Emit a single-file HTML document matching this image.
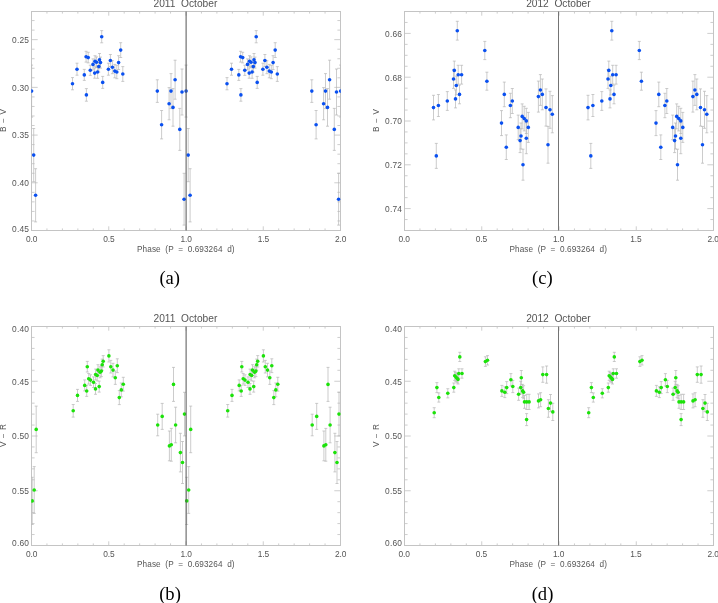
<!DOCTYPE html>
<html><head><meta charset="utf-8"><title>Phase plots</title>
<style>
html,body{margin:0;padding:0;background:#fff;}
body{width:718px;height:603px;overflow:hidden;font-family:"Liberation Sans",sans-serif;}
svg{display:block;font-family:"Liberation Sans",sans-serif;}
</style></head><body>
<svg width="718" height="603" viewBox="0 0 718 603">
<defs><filter id="gs" x="-5%" y="-20%" width="110%" height="140%" color-interpolation-filters="sRGB"><feColorMatrix type="saturate" values="0"/></filter></defs>
<rect width="718" height="603" fill="#ffffff"/>
<g id="p1">
<path d="M46.95 230.5v-2.1M46.95 11.5v2.1M62.4 230.5v-2.1M62.4 11.5v2.1M77.85 230.5v-2.1M77.85 11.5v2.1M93.3 230.5v-2.1M93.3 11.5v2.1M108.75 230.5v-4.2M108.75 11.5v4.2M124.2 230.5v-2.1M124.2 11.5v2.1M139.65 230.5v-2.1M139.65 11.5v2.1M155.1 230.5v-2.1M155.1 11.5v2.1M170.55 230.5v-2.1M170.55 11.5v2.1M186 230.5v-4.2M186 11.5v4.2M201.45 230.5v-2.1M201.45 11.5v2.1M216.9 230.5v-2.1M216.9 11.5v2.1M232.35 230.5v-2.1M232.35 11.5v2.1M247.8 230.5v-2.1M247.8 11.5v2.1M263.25 230.5v-4.2M263.25 11.5v4.2M278.7 230.5v-2.1M278.7 11.5v2.1M294.15 230.5v-2.1M294.15 11.5v2.1M309.6 230.5v-2.1M309.6 11.5v2.1M325.05 230.5v-2.1M325.05 11.5v2.1M31.5 20.57h3.1M340.5 20.57h-3.1M31.5 30.11h3.1M340.5 30.11h-3.1M31.5 39.65h6.2M340.5 39.65h-6.2M31.5 49.19h3.1M340.5 49.19h-3.1M31.5 58.74h3.1M340.5 58.74h-3.1M31.5 68.28h3.1M340.5 68.28h-3.1M31.5 77.82h3.1M340.5 77.82h-3.1M31.5 87.36h6.2M340.5 87.36h-6.2M31.5 96.91h3.1M340.5 96.91h-3.1M31.5 106.45h3.1M340.5 106.45h-3.1M31.5 115.99h3.1M340.5 115.99h-3.1M31.5 125.53h3.1M340.5 125.53h-3.1M31.5 135.08h6.2M340.5 135.08h-6.2M31.5 144.62h3.1M340.5 144.62h-3.1M31.5 154.16h3.1M340.5 154.16h-3.1M31.5 163.7h3.1M340.5 163.7h-3.1M31.5 173.25h3.1M340.5 173.25h-3.1M31.5 182.79h6.2M340.5 182.79h-6.2M31.5 192.33h3.1M340.5 192.33h-3.1M31.5 201.87h3.1M340.5 201.87h-3.1M31.5 211.42h3.1M340.5 211.42h-3.1M31.5 220.96h3.1M340.5 220.96h-3.1" stroke="#cecece" stroke-width="1" fill="none"/>
<rect x="31.5" y="11.5" width="309" height="219" fill="none" stroke="#c4c4c4" stroke-width="1"/>
<clipPath id="ca"><rect x="31.25" y="11.0" width="309.5" height="220"/></clipPath>
<g clip-path="url(#ca)">
<path d="M31.6 65.1V117.1M30.1 65.1h3M30.1 117.1h3M186.1 65.1V117.1M184.6 65.1h3M184.6 117.1h3M340.6 65.1V117.1M339.1 65.1h3M339.1 117.1h3M33.7 128.5V181.7M32.2 128.5h3M32.2 181.7h3M188.2 128.5V181.7M186.7 128.5h3M186.7 181.7h3M35.6 168.7V221.9M34.1 168.7h3M34.1 221.9h3M190.1 168.7V221.9M188.6 168.7h3M188.6 221.9h3M72.5 77.6V89.8M71 77.6h3M71 89.8h3M227 77.6V89.8M225.5 77.6h3M225.5 89.8h3M77 63.2V75.2M75.5 63.2h3M75.5 75.2h3M231.5 63.2V75.2M230 63.2h3M230 75.2h3M84.3 69.4V80.4M82.8 69.4h3M82.8 80.4h3M238.8 69.4V80.4M237.3 69.4h3M237.3 80.4h3M86.4 88.6V101.2M84.9 88.6h3M84.9 101.2h3M240.9 88.6V101.2M239.4 88.6h3M239.4 101.2h3M86.1 51.3V62.1M84.6 51.3h3M84.6 62.1h3M240.6 51.3V62.1M239.1 51.3h3M239.1 62.1h3M88.2 52.3V62.9M86.7 52.3h3M86.7 62.9h3M242.7 52.3V62.9M241.2 52.3h3M241.2 62.9h3M90.3 65.2V75.4M88.8 65.2h3M88.8 75.4h3M244.8 65.2V75.4M243.3 65.2h3M243.3 75.4h3M93 58.9V69.9M91.5 58.9h3M91.5 69.9h3M247.5 58.9V69.9M246 58.9h3M246 69.9h3M94.7 68V78.2M93.2 68h3M93.2 78.2h3M249.2 68V78.2M247.7 68h3M247.7 78.2h3M95 55.7V66.7M93.5 55.7h3M93.5 66.7h3M249.5 55.7V66.7M248 55.7h3M248 66.7h3M96.5 56.9V67.5M95 56.9h3M95 67.5h3M251 56.9V67.5M249.5 56.9h3M249.5 67.5h3M97.6 65.7V78.3M96.1 65.7h3M96.1 78.3h3M252.1 65.7V78.3M250.6 65.7h3M250.6 78.3h3M98.8 61.1V72.1M97.3 61.1h3M97.3 72.1h3M253.3 61.1V72.1M251.8 61.1h3M251.8 72.1h3M99.5 53.5V66.1M98 53.5h3M98 66.1h3M254 53.5V66.1M252.5 53.5h3M252.5 66.1h3M100.5 57.1V68.1M99 57.1h3M99 68.1h3M255 57.1V68.1M253.5 57.1h3M253.5 68.1h3M101.7 30.6V42.8M100.2 30.6h3M100.2 42.8h3M256.2 30.6V42.8M254.7 30.6h3M254.7 42.8h3M102.7 76.4V88.4M101.2 76.4h3M101.2 88.4h3M257.2 76.4V88.4M255.7 76.4h3M255.7 88.4h3M108.4 63.2V75.2M106.9 63.2h3M106.9 75.2h3M262.9 63.2V75.2M261.4 63.2h3M261.4 75.2h3M110.4 54.5V66.5M108.9 54.5h3M108.9 66.5h3M264.9 54.5V66.5M263.4 54.5h3M263.4 66.5h3M112.4 60.7V73.7M110.9 60.7h3M110.9 73.7h3M266.9 60.7V73.7M265.4 60.7h3M265.4 73.7h3M114.8 64.4V77.8M113.3 64.4h3M113.3 77.8h3M269.3 64.4V77.8M267.8 64.4h3M267.8 77.8h3M116.8 65.3V78.7M115.3 65.3h3M115.3 78.7h3M271.3 65.3V78.7M269.8 65.3h3M269.8 78.7h3M118.6 55.7V69.5M117.1 55.7h3M117.1 69.5h3M273.1 55.7V69.5M271.6 55.7h3M271.6 69.5h3M120.7 42.7V57.5M119.2 42.7h3M119.2 57.5h3M275.2 42.7V57.5M273.7 42.7h3M273.7 57.5h3M122.8 66.6V81.4M121.3 66.6h3M121.3 81.4h3M277.3 66.6V81.4M275.8 66.6h3M275.8 81.4h3M157.3 79.8V102.4M155.8 79.8h3M155.8 102.4h3M311.8 79.8V102.4M310.3 79.8h3M310.3 102.4h3M161.6 110.5V138.9M160.1 110.5h3M160.1 138.9h3M316.1 110.5V138.9M314.6 110.5h3M314.6 138.9h3M169.1 87.6V119.8M167.6 87.6h3M167.6 119.8h3M323.6 87.6V119.8M322.1 87.6h3M322.1 119.8h3M171 73.6V108.6M169.5 73.6h3M169.5 108.6h3M325.5 73.6V108.6M324 73.6h3M324 108.6h3M173 88.6V126.2M171.5 88.6h3M171.5 126.2h3M327.5 88.6V126.2M326 88.6h3M326 126.2h3M175.1 60.2V99.2M173.6 60.2h3M173.6 99.2h3M329.6 60.2V99.2M328.1 60.2h3M328.1 99.2h3M179.8 108.4V150.4M178.3 108.4h3M178.3 150.4h3M334.3 108.4V150.4M332.8 108.4h3M332.8 150.4h3M182 69V115M180.5 69h3M180.5 115h3M336.5 69V115M335 69h3M335 115h3M184.1 173.3V225.1M182.6 173.3h3M182.6 225.1h3M338.6 173.3V225.1M337.1 173.3h3M337.1 225.1h3" stroke="#b6b6b6" stroke-width="0.7" fill="none"/>
<g fill="#0a50f0"><circle cx="31.6" cy="91.1" r="1.8"/><circle cx="186.1" cy="91.1" r="1.8"/><circle cx="340.6" cy="91.1" r="1.8"/><circle cx="33.7" cy="155.1" r="1.8"/><circle cx="188.2" cy="155.1" r="1.8"/><circle cx="35.6" cy="195.3" r="1.8"/><circle cx="190.1" cy="195.3" r="1.8"/><circle cx="72.5" cy="83.7" r="1.8"/><circle cx="227" cy="83.7" r="1.8"/><circle cx="77" cy="69.2" r="1.8"/><circle cx="231.5" cy="69.2" r="1.8"/><circle cx="84.3" cy="74.9" r="1.8"/><circle cx="238.8" cy="74.9" r="1.8"/><circle cx="86.4" cy="94.9" r="1.8"/><circle cx="240.9" cy="94.9" r="1.8"/><circle cx="86.1" cy="56.7" r="1.8"/><circle cx="240.6" cy="56.7" r="1.8"/><circle cx="88.2" cy="57.6" r="1.8"/><circle cx="242.7" cy="57.6" r="1.8"/><circle cx="90.3" cy="70.3" r="1.8"/><circle cx="244.8" cy="70.3" r="1.8"/><circle cx="93" cy="64.4" r="1.8"/><circle cx="247.5" cy="64.4" r="1.8"/><circle cx="94.7" cy="73.1" r="1.8"/><circle cx="249.2" cy="73.1" r="1.8"/><circle cx="95" cy="61.2" r="1.8"/><circle cx="249.5" cy="61.2" r="1.8"/><circle cx="96.5" cy="62.2" r="1.8"/><circle cx="251" cy="62.2" r="1.8"/><circle cx="97.6" cy="72" r="1.8"/><circle cx="252.1" cy="72" r="1.8"/><circle cx="98.8" cy="66.6" r="1.8"/><circle cx="253.3" cy="66.6" r="1.8"/><circle cx="99.5" cy="59.8" r="1.8"/><circle cx="254" cy="59.8" r="1.8"/><circle cx="100.5" cy="62.6" r="1.8"/><circle cx="255" cy="62.6" r="1.8"/><circle cx="101.7" cy="36.7" r="1.8"/><circle cx="256.2" cy="36.7" r="1.8"/><circle cx="102.7" cy="82.4" r="1.8"/><circle cx="257.2" cy="82.4" r="1.8"/><circle cx="108.4" cy="69.2" r="1.8"/><circle cx="262.9" cy="69.2" r="1.8"/><circle cx="110.4" cy="60.5" r="1.8"/><circle cx="264.9" cy="60.5" r="1.8"/><circle cx="112.4" cy="67.2" r="1.8"/><circle cx="266.9" cy="67.2" r="1.8"/><circle cx="114.8" cy="71.1" r="1.8"/><circle cx="269.3" cy="71.1" r="1.8"/><circle cx="116.8" cy="72" r="1.8"/><circle cx="271.3" cy="72" r="1.8"/><circle cx="118.6" cy="62.6" r="1.8"/><circle cx="273.1" cy="62.6" r="1.8"/><circle cx="120.7" cy="50.1" r="1.8"/><circle cx="275.2" cy="50.1" r="1.8"/><circle cx="122.8" cy="74" r="1.8"/><circle cx="277.3" cy="74" r="1.8"/><circle cx="157.3" cy="91.1" r="1.8"/><circle cx="311.8" cy="91.1" r="1.8"/><circle cx="161.6" cy="124.7" r="1.8"/><circle cx="316.1" cy="124.7" r="1.8"/><circle cx="169.1" cy="103.7" r="1.8"/><circle cx="323.6" cy="103.7" r="1.8"/><circle cx="171" cy="91.1" r="1.8"/><circle cx="325.5" cy="91.1" r="1.8"/><circle cx="173" cy="107.4" r="1.8"/><circle cx="327.5" cy="107.4" r="1.8"/><circle cx="175.1" cy="79.7" r="1.8"/><circle cx="329.6" cy="79.7" r="1.8"/><circle cx="179.8" cy="129.4" r="1.8"/><circle cx="334.3" cy="129.4" r="1.8"/><circle cx="182" cy="92" r="1.8"/><circle cx="336.5" cy="92" r="1.8"/><circle cx="184.1" cy="199.2" r="1.8"/><circle cx="338.6" cy="199.2" r="1.8"/></g>
<line x1="186.1" y1="11.5" x2="186.1" y2="230.5" stroke="#555555" stroke-width="1"/>
</g>
<g filter="url(#gs)"><g fill="#555555" font-size="8.4">
<text x="31.7" y="242.2" text-anchor="middle" textLength="11.4" lengthAdjust="spacing">0.0</text>
<text x="108.95" y="242.2" text-anchor="middle" textLength="11.4" lengthAdjust="spacing">0.5</text>
<text x="186.2" y="242.2" text-anchor="middle" textLength="11.4" lengthAdjust="spacing">1.0</text>
<text x="263.45" y="242.2" text-anchor="middle" textLength="11.4" lengthAdjust="spacing">1.5</text>
<text x="340.7" y="242.2" text-anchor="middle" textLength="11.4" lengthAdjust="spacing">2.0</text>
<text x="29.0" y="43.05" text-anchor="end" textLength="17" lengthAdjust="spacing">0.25</text>
<text x="29.0" y="90.76" text-anchor="end" textLength="17" lengthAdjust="spacing">0.30</text>
<text x="29.0" y="138.48" text-anchor="end" textLength="17" lengthAdjust="spacing">0.35</text>
<text x="29.0" y="186.19" text-anchor="end" textLength="17" lengthAdjust="spacing">0.40</text>
<text x="29.0" y="231.6" text-anchor="end" textLength="17" lengthAdjust="spacing">0.45</text>
<text x="185.8" y="251.8" font-size="8.2" word-spacing="2.2" text-anchor="middle" textLength="97.5" lengthAdjust="spacing">Phase (P = 0.693264 d)</text>
<text transform="translate(5.5 120.6) rotate(-90)" font-size="8.2" text-anchor="middle" textLength="23" lengthAdjust="spacing">B − V</text>
</g>
<text x="185.4" y="7.0" font-size="10.2" word-spacing="2.8" fill="#555555" text-anchor="middle">2011 October</text>
<text x="169.7" y="283.9" font-family="'Liberation Serif', serif" font-size="18.6" fill="#000" text-anchor="middle">(a)</text>
</g></g>
<g id="p2">
<path d="M46.95 545.5v-2.1M46.95 326.5v2.1M62.4 545.5v-2.1M62.4 326.5v2.1M77.85 545.5v-2.1M77.85 326.5v2.1M93.3 545.5v-2.1M93.3 326.5v2.1M108.75 545.5v-4.2M108.75 326.5v4.2M124.2 545.5v-2.1M124.2 326.5v2.1M139.65 545.5v-2.1M139.65 326.5v2.1M155.1 545.5v-2.1M155.1 326.5v2.1M170.55 545.5v-2.1M170.55 326.5v2.1M186 545.5v-4.2M186 326.5v4.2M201.45 545.5v-2.1M201.45 326.5v2.1M216.9 545.5v-2.1M216.9 326.5v2.1M232.35 545.5v-2.1M232.35 326.5v2.1M247.8 545.5v-2.1M247.8 326.5v2.1M263.25 545.5v-4.2M263.25 326.5v4.2M278.7 545.5v-2.1M278.7 326.5v2.1M294.15 545.5v-2.1M294.15 326.5v2.1M309.6 545.5v-2.1M309.6 326.5v2.1M325.05 545.5v-2.1M325.05 326.5v2.1M31.5 337.45h3.1M340.5 337.45h-3.1M31.5 348.4h3.1M340.5 348.4h-3.1M31.5 359.35h3.1M340.5 359.35h-3.1M31.5 370.3h3.1M340.5 370.3h-3.1M31.5 381.25h6.2M340.5 381.25h-6.2M31.5 392.2h3.1M340.5 392.2h-3.1M31.5 403.15h3.1M340.5 403.15h-3.1M31.5 414.1h3.1M340.5 414.1h-3.1M31.5 425.05h3.1M340.5 425.05h-3.1M31.5 436h6.2M340.5 436h-6.2M31.5 446.95h3.1M340.5 446.95h-3.1M31.5 457.9h3.1M340.5 457.9h-3.1M31.5 468.85h3.1M340.5 468.85h-3.1M31.5 479.8h3.1M340.5 479.8h-3.1M31.5 490.75h6.2M340.5 490.75h-6.2M31.5 501.7h3.1M340.5 501.7h-3.1M31.5 512.65h3.1M340.5 512.65h-3.1M31.5 523.6h3.1M340.5 523.6h-3.1M31.5 534.55h3.1M340.5 534.55h-3.1" stroke="#cecece" stroke-width="1" fill="none"/>
<rect x="31.5" y="326.5" width="309" height="219" fill="none" stroke="#c4c4c4" stroke-width="1"/>
<clipPath id="cb"><rect x="31.25" y="326.0" width="309.5" height="220"/></clipPath>
<g clip-path="url(#cb)">
<path d="M32.2 477.3V524.5M30.7 477.3h3M30.7 524.5h3M186.7 477.3V524.5M185.2 477.3h3M185.2 524.5h3M34.2 466.6V513.4M32.7 466.6h3M32.7 513.4h3M188.7 466.6V513.4M187.2 466.6h3M187.2 513.4h3M36.2 406.1V452.7M34.7 406.1h3M34.7 452.7h3M190.7 406.1V452.7M189.2 406.1h3M189.2 452.7h3M73.2 404.5V417.1M71.7 404.5h3M71.7 417.1h3M227.7 404.5V417.1M226.2 404.5h3M226.2 417.1h3M77.5 389.4V401.4M76 389.4h3M76 401.4h3M232 389.4V401.4M230.5 389.4h3M230.5 401.4h3M84.7 379.9V390.9M83.2 379.9h3M83.2 390.9h3M239.2 379.9V390.9M237.7 379.9h3M237.7 390.9h3M86.7 385.6V396.4M85.2 385.6h3M85.2 396.4h3M241.2 385.6V396.4M239.7 385.6h3M239.7 396.4h3M87.3 361.4V372M85.8 361.4h3M85.8 372h3M241.8 361.4V372M240.3 361.4h3M240.3 372h3M88.7 373.5V384.1M87.2 373.5h3M87.2 384.1h3M243.2 373.5V384.1M241.7 373.5h3M241.7 384.1h3M90.5 374.8V385.4M89 374.8h3M89 385.4h3M245 374.8V385.4M243.5 374.8h3M243.5 385.4h3M93.5 376.9V387.5M92 376.9h3M92 387.5h3M248 376.9V387.5M246.5 376.9h3M246.5 387.5h3M95.5 383.5V394.3M94 383.5h3M94 394.3h3M250 383.5V394.3M248.5 383.5h3M248.5 394.3h3M95.6 369.1V379.9M94.1 369.1h3M94.1 379.9h3M250.1 369.1V379.9M248.6 369.1h3M248.6 379.9h3M97.2 370.1V380.9M95.7 370.1h3M95.7 380.9h3M251.7 370.1V380.9M250.2 370.1h3M250.2 380.9h3M98 364.7V375.5M96.5 364.7h3M96.5 375.5h3M252.5 364.7V375.5M251 364.7h3M251 375.5h3M99.2 381.1V392.1M97.7 381.1h3M97.7 392.1h3M253.7 381.1V392.1M252.2 381.1h3M252.2 392.1h3M100.1 366.8V377.8M98.6 366.8h3M98.6 377.8h3M254.6 366.8V377.8M253.1 366.8h3M253.1 377.8h3M101.4 365.6V376.6M99.9 365.6h3M99.9 376.6h3M255.9 365.6V376.6M254.4 365.6h3M254.4 376.6h3M102.2 359.1V370.3M100.7 359.1h3M100.7 370.3h3M256.7 359.1V370.3M255.2 359.1h3M255.2 370.3h3M103.2 355.6V367M101.7 355.6h3M101.7 367h3M257.7 355.6V367M256.2 355.6h3M256.2 367h3M108.9 349.8V362M107.4 349.8h3M107.4 362h3M263.4 349.8V362M261.9 349.8h3M261.9 362h3M110.8 360.4V373M109.3 360.4h3M109.3 373h3M265.3 360.4V373M263.8 360.4h3M263.8 373h3M113 363.3V376.9M111.5 363.3h3M111.5 376.9h3M267.5 363.3V376.9M266 363.3h3M266 376.9h3M115.3 371V384.4M113.8 371h3M113.8 384.4h3M269.8 371V384.4M268.3 371h3M268.3 384.4h3M117.3 358.8V372.6M115.8 358.8h3M115.8 372.6h3M271.8 358.8V372.6M270.3 358.8h3M270.3 372.6h3M119.3 390.6V404.6M117.8 390.6h3M117.8 404.6h3M273.8 390.6V404.6M272.3 390.6h3M272.3 404.6h3M121.3 383V396.8M119.8 383h3M119.8 396.8h3M275.8 383V396.8M274.3 383h3M274.3 396.8h3M123.3 377.3V391.1M121.8 377.3h3M121.8 391.1h3M277.8 377.3V391.1M276.3 377.3h3M276.3 391.1h3M157.7 414.2V435.8M156.2 414.2h3M156.2 435.8h3M312.2 414.2V435.8M310.7 414.2h3M310.7 435.8h3M162.2 403.4V429.4M160.7 403.4h3M160.7 429.4h3M316.7 403.4V429.4M315.2 403.4h3M315.2 429.4h3M169.4 431V460.8M167.9 431h3M167.9 460.8h3M323.9 431V460.8M322.4 431h3M322.4 460.8h3M171.3 428.4V461.2M169.8 428.4h3M169.8 461.2h3M325.8 428.4V461.2M324.3 428.4h3M324.3 461.2h3M173.5 367.4V401.4M172 367.4h3M172 401.4h3M328 367.4V401.4M326.5 367.4h3M326.5 401.4h3M175.6 407.2V442.8M174.1 407.2h3M174.1 442.8h3M330.1 407.2V442.8M328.6 407.2h3M328.6 442.8h3M180.4 433.3V471.9M178.9 433.3h3M178.9 471.9h3M334.9 433.3V471.9M333.4 433.3h3M333.4 471.9h3M182.5 441.5V483.5M181 441.5h3M181 483.5h3M337 441.5V483.5M335.5 441.5h3M335.5 483.5h3M184.5 392.3V435.9M183 392.3h3M183 435.9h3M339 392.3V435.9M337.5 392.3h3M337.5 435.9h3" stroke="#b6b6b6" stroke-width="0.7" fill="none"/>
<g fill="#1ce20a"><circle cx="32.2" cy="500.9" r="1.8"/><circle cx="186.7" cy="500.9" r="1.8"/><circle cx="34.2" cy="490" r="1.8"/><circle cx="188.7" cy="490" r="1.8"/><circle cx="36.2" cy="429.4" r="1.8"/><circle cx="190.7" cy="429.4" r="1.8"/><circle cx="73.2" cy="410.8" r="1.8"/><circle cx="227.7" cy="410.8" r="1.8"/><circle cx="77.5" cy="395.4" r="1.8"/><circle cx="232" cy="395.4" r="1.8"/><circle cx="84.7" cy="385.4" r="1.8"/><circle cx="239.2" cy="385.4" r="1.8"/><circle cx="86.7" cy="391" r="1.8"/><circle cx="241.2" cy="391" r="1.8"/><circle cx="87.3" cy="366.7" r="1.8"/><circle cx="241.8" cy="366.7" r="1.8"/><circle cx="88.7" cy="378.8" r="1.8"/><circle cx="243.2" cy="378.8" r="1.8"/><circle cx="90.5" cy="380.1" r="1.8"/><circle cx="245" cy="380.1" r="1.8"/><circle cx="93.5" cy="382.2" r="1.8"/><circle cx="248" cy="382.2" r="1.8"/><circle cx="95.5" cy="388.9" r="1.8"/><circle cx="250" cy="388.9" r="1.8"/><circle cx="95.6" cy="374.5" r="1.8"/><circle cx="250.1" cy="374.5" r="1.8"/><circle cx="97.2" cy="375.5" r="1.8"/><circle cx="251.7" cy="375.5" r="1.8"/><circle cx="98" cy="370.1" r="1.8"/><circle cx="252.5" cy="370.1" r="1.8"/><circle cx="99.2" cy="386.6" r="1.8"/><circle cx="253.7" cy="386.6" r="1.8"/><circle cx="100.1" cy="372.3" r="1.8"/><circle cx="254.6" cy="372.3" r="1.8"/><circle cx="101.4" cy="371.1" r="1.8"/><circle cx="255.9" cy="371.1" r="1.8"/><circle cx="102.2" cy="364.7" r="1.8"/><circle cx="256.7" cy="364.7" r="1.8"/><circle cx="103.2" cy="361.3" r="1.8"/><circle cx="257.7" cy="361.3" r="1.8"/><circle cx="108.9" cy="355.9" r="1.8"/><circle cx="263.4" cy="355.9" r="1.8"/><circle cx="110.8" cy="366.7" r="1.8"/><circle cx="265.3" cy="366.7" r="1.8"/><circle cx="113" cy="370.1" r="1.8"/><circle cx="267.5" cy="370.1" r="1.8"/><circle cx="115.3" cy="377.7" r="1.8"/><circle cx="269.8" cy="377.7" r="1.8"/><circle cx="117.3" cy="365.7" r="1.8"/><circle cx="271.8" cy="365.7" r="1.8"/><circle cx="119.3" cy="397.6" r="1.8"/><circle cx="273.8" cy="397.6" r="1.8"/><circle cx="121.3" cy="389.9" r="1.8"/><circle cx="275.8" cy="389.9" r="1.8"/><circle cx="123.3" cy="384.2" r="1.8"/><circle cx="277.8" cy="384.2" r="1.8"/><circle cx="157.7" cy="425" r="1.8"/><circle cx="312.2" cy="425" r="1.8"/><circle cx="162.2" cy="416.4" r="1.8"/><circle cx="316.7" cy="416.4" r="1.8"/><circle cx="169.4" cy="445.9" r="1.8"/><circle cx="323.9" cy="445.9" r="1.8"/><circle cx="171.3" cy="444.8" r="1.8"/><circle cx="325.8" cy="444.8" r="1.8"/><circle cx="173.5" cy="384.4" r="1.8"/><circle cx="328" cy="384.4" r="1.8"/><circle cx="175.6" cy="425" r="1.8"/><circle cx="330.1" cy="425" r="1.8"/><circle cx="180.4" cy="452.6" r="1.8"/><circle cx="334.9" cy="452.6" r="1.8"/><circle cx="182.5" cy="462.5" r="1.8"/><circle cx="337" cy="462.5" r="1.8"/><circle cx="184.5" cy="414.1" r="1.8"/><circle cx="339" cy="414.1" r="1.8"/></g>
<line x1="186.1" y1="326.5" x2="186.1" y2="545.5" stroke="#555555" stroke-width="1"/>
</g>
<g filter="url(#gs)"><g fill="#555555" font-size="8.4">
<text x="31.7" y="557.2" text-anchor="middle" textLength="11.4" lengthAdjust="spacing">0.0</text>
<text x="108.95" y="557.2" text-anchor="middle" textLength="11.4" lengthAdjust="spacing">0.5</text>
<text x="186.2" y="557.2" text-anchor="middle" textLength="11.4" lengthAdjust="spacing">1.0</text>
<text x="263.45" y="557.2" text-anchor="middle" textLength="11.4" lengthAdjust="spacing">1.5</text>
<text x="340.7" y="557.2" text-anchor="middle" textLength="11.4" lengthAdjust="spacing">2.0</text>
<text x="29.0" y="331.8" text-anchor="end" textLength="17" lengthAdjust="spacing">0.40</text>
<text x="29.0" y="384.55" text-anchor="end" textLength="17" lengthAdjust="spacing">0.45</text>
<text x="29.0" y="439.3" text-anchor="end" textLength="17" lengthAdjust="spacing">0.50</text>
<text x="29.0" y="494.05" text-anchor="end" textLength="17" lengthAdjust="spacing">0.55</text>
<text x="29.0" y="546" text-anchor="end" textLength="17" lengthAdjust="spacing">0.60</text>
<text x="185.8" y="566.8" font-size="8.2" word-spacing="2.2" text-anchor="middle" textLength="97.5" lengthAdjust="spacing">Phase (P = 0.693264 d)</text>
<text transform="translate(5.5 435.6) rotate(-90)" font-size="8.2" text-anchor="middle" textLength="23" lengthAdjust="spacing">V − R</text>
</g>
<text x="185.4" y="322.0" font-size="10.2" word-spacing="2.8" fill="#555555" text-anchor="middle">2011 October</text>
<text x="170.0" y="599.8" font-family="'Liberation Serif', serif" font-size="18.6" fill="#000" text-anchor="middle">(b)</text>
</g></g>
<g id="p3">
<path d="M419.95 230.5v-2.1M419.95 11.5v2.1M435.4 230.5v-2.1M435.4 11.5v2.1M450.85 230.5v-2.1M450.85 11.5v2.1M466.3 230.5v-2.1M466.3 11.5v2.1M481.75 230.5v-4.2M481.75 11.5v4.2M497.2 230.5v-2.1M497.2 11.5v2.1M512.65 230.5v-2.1M512.65 11.5v2.1M528.1 230.5v-2.1M528.1 11.5v2.1M543.55 230.5v-2.1M543.55 11.5v2.1M559 230.5v-4.2M559 11.5v4.2M574.45 230.5v-2.1M574.45 11.5v2.1M589.9 230.5v-2.1M589.9 11.5v2.1M605.35 230.5v-2.1M605.35 11.5v2.1M620.8 230.5v-2.1M620.8 11.5v2.1M636.25 230.5v-4.2M636.25 11.5v4.2M651.7 230.5v-2.1M651.7 11.5v2.1M667.15 230.5v-2.1M667.15 11.5v2.1M682.6 230.5v-2.1M682.6 11.5v2.1M698.05 230.5v-2.1M698.05 11.5v2.1M404.5 22.45h3.1M713.5 22.45h-3.1M404.5 33.4h6.2M713.5 33.4h-6.2M404.5 44.35h3.1M713.5 44.35h-3.1M404.5 55.3h3.1M713.5 55.3h-3.1M404.5 66.25h3.1M713.5 66.25h-3.1M404.5 77.2h6.2M713.5 77.2h-6.2M404.5 88.15h3.1M713.5 88.15h-3.1M404.5 99.1h3.1M713.5 99.1h-3.1M404.5 110.05h3.1M713.5 110.05h-3.1M404.5 121h6.2M713.5 121h-6.2M404.5 131.95h3.1M713.5 131.95h-3.1M404.5 142.9h3.1M713.5 142.9h-3.1M404.5 153.85h3.1M713.5 153.85h-3.1M404.5 164.8h6.2M713.5 164.8h-6.2M404.5 175.75h3.1M713.5 175.75h-3.1M404.5 186.7h3.1M713.5 186.7h-3.1M404.5 197.65h3.1M713.5 197.65h-3.1M404.5 208.6h6.2M713.5 208.6h-6.2M404.5 219.55h3.1M713.5 219.55h-3.1" stroke="#cecece" stroke-width="1" fill="none"/>
<rect x="404.5" y="11.5" width="309" height="219" fill="none" stroke="#c4c4c4" stroke-width="1"/>
<clipPath id="cc"><rect x="404.25" y="11.0" width="309.5" height="220"/></clipPath>
<g clip-path="url(#cc)">
<path d="M433.5 95.3V119.9M432 95.3h3M432 119.9h3M588 95.3V119.9M586.5 95.3h3M586.5 119.9h3M436.3 143.4V168.4M434.8 143.4h3M434.8 168.4h3M590.8 143.4V168.4M589.3 143.4h3M589.3 168.4h3M438.4 94.5V116.5M436.9 94.5h3M436.9 116.5h3M592.9 94.5V116.5M591.4 94.5h3M591.4 116.5h3M447.3 91.6V110.4M445.8 91.6h3M445.8 110.4h3M601.8 91.6V110.4M600.3 91.6h3M600.3 110.4h3M453.5 69.6V88.4M452 69.6h3M452 88.4h3M608 69.6V88.4M606.5 69.6h3M606.5 88.4h3M454.3 61.1V79.7M452.8 61.1h3M452.8 79.7h3M608.8 61.1V79.7M607.3 61.1h3M607.3 79.7h3M455.5 89.9V107.9M454 89.9h3M454 107.9h3M610 89.9V107.9M608.5 89.9h3M608.5 107.9h3M456.3 76.1V94.9M454.8 76.1h3M454.8 94.9h3M610.8 76.1V94.9M609.3 76.1h3M609.3 94.9h3M457.3 21.3V40.1M455.8 21.3h3M455.8 40.1h3M611.8 21.3V40.1M610.3 21.3h3M610.3 40.1h3M458.2 65.3V84.1M456.7 65.3h3M456.7 84.1h3M612.7 65.3V84.1M611.2 65.3h3M611.2 84.1h3M459.5 85V103.8M458 85h3M458 103.8h3M614 85V103.8M612.5 85h3M612.5 103.8h3M461.6 65.3V84.1M460.1 65.3h3M460.1 84.1h3M616.1 65.3V84.1M614.6 65.3h3M614.6 84.1h3M484.8 41.4V59.6M483.3 41.4h3M483.3 59.6h3M639.3 41.4V59.6M637.8 41.4h3M637.8 59.6h3M486.9 72.2V90.2M485.4 72.2h3M485.4 90.2h3M641.4 72.2V90.2M639.9 72.2h3M639.9 90.2h3M501.5 110.6V135.6M500 110.6h3M500 135.6h3M656 110.6V135.6M654.5 110.6h3M654.5 135.6h3M504.3 82.1V106.7M502.8 82.1h3M502.8 106.7h3M658.8 82.1V106.7M657.3 82.1h3M657.3 106.7h3M506.3 134.9V159.5M504.8 134.9h3M504.8 159.5h3M660.8 134.9V159.5M659.3 134.9h3M659.3 159.5h3M510.4 93.3V117.7M508.9 93.3h3M508.9 117.7h3M664.9 93.3V117.7M663.4 93.3h3M663.4 117.7h3M512.3 88.5V113.5M510.8 88.5h3M510.8 113.5h3M666.8 88.5V113.5M665.3 88.5h3M665.3 113.5h3M518.2 115.1V139.7M516.7 115.1h3M516.7 139.7h3M672.7 115.1V139.7M671.2 115.1h3M671.2 139.7h3M520.1 128.6V152.6M518.6 128.6h3M518.6 152.6h3M674.6 128.6V152.6M673.1 128.6h3M673.1 152.6h3M521 123V149M519.5 123h3M519.5 149h3M675.5 123V149M674 123h3M674 149h3M522.2 103.9V128.9M520.7 103.9h3M520.7 128.9h3M676.7 103.9V128.9M675.2 103.9h3M675.2 128.9h3M523 149.2V180.2M521.5 149.2h3M521.5 180.2h3M677.5 149.2V180.2M676 149.2h3M676 180.2h3M524.2 106.3V130.9M522.7 106.3h3M522.7 130.9h3M678.7 106.3V130.9M677.2 106.3h3M677.2 130.9h3M526.3 108.3V133.5M524.8 108.3h3M524.8 133.5h3M680.8 108.3V133.5M679.3 108.3h3M679.3 133.5h3M526.3 122.9V153.7M524.8 122.9h3M524.8 153.7h3M680.8 122.9V153.7M679.3 122.9h3M679.3 153.7h3M528.3 112.4V142.4M526.8 112.4h3M526.8 142.4h3M682.8 112.4V142.4M681.3 112.4h3M681.3 142.4h3M538.4 81.1V112.1M536.9 81.1h3M536.9 112.1h3M692.9 81.1V112.1M691.4 81.1h3M691.4 112.1h3M540.4 74.6V105.4M538.9 74.6h3M538.9 105.4h3M694.9 74.6V105.4M693.4 74.6h3M693.4 105.4h3M542.3 79V109.8M540.8 79h3M540.8 109.8h3M696.8 79V109.8M695.3 79h3M695.3 109.8h3M546 88.9V126.1M544.5 88.9h3M544.5 126.1h3M700.5 88.9V126.1M699 88.9h3M699 126.1h3M548 126.4V163.2M546.5 126.4h3M546.5 163.2h3M702.5 126.4V163.2M701 126.4h3M701 163.2h3M550 91.3V128.3M548.5 91.3h3M548.5 128.3h3M704.5 91.3V128.3M703 91.3h3M703 128.3h3M552.3 95.6V132.8M550.8 95.6h3M550.8 132.8h3M706.8 95.6V132.8M705.3 95.6h3M705.3 132.8h3" stroke="#b6b6b6" stroke-width="0.7" fill="none"/>
<g fill="#0a50f0"><circle cx="433.5" cy="107.6" r="1.8"/><circle cx="588" cy="107.6" r="1.8"/><circle cx="436.3" cy="155.9" r="1.8"/><circle cx="590.8" cy="155.9" r="1.8"/><circle cx="438.4" cy="105.5" r="1.8"/><circle cx="592.9" cy="105.5" r="1.8"/><circle cx="447.3" cy="101" r="1.8"/><circle cx="601.8" cy="101" r="1.8"/><circle cx="453.5" cy="79" r="1.8"/><circle cx="608" cy="79" r="1.8"/><circle cx="454.3" cy="70.4" r="1.8"/><circle cx="608.8" cy="70.4" r="1.8"/><circle cx="455.5" cy="98.9" r="1.8"/><circle cx="610" cy="98.9" r="1.8"/><circle cx="456.3" cy="85.5" r="1.8"/><circle cx="610.8" cy="85.5" r="1.8"/><circle cx="457.3" cy="30.7" r="1.8"/><circle cx="611.8" cy="30.7" r="1.8"/><circle cx="458.2" cy="74.7" r="1.8"/><circle cx="612.7" cy="74.7" r="1.8"/><circle cx="459.5" cy="94.4" r="1.8"/><circle cx="614" cy="94.4" r="1.8"/><circle cx="461.6" cy="74.7" r="1.8"/><circle cx="616.1" cy="74.7" r="1.8"/><circle cx="484.8" cy="50.5" r="1.8"/><circle cx="639.3" cy="50.5" r="1.8"/><circle cx="486.9" cy="81.2" r="1.8"/><circle cx="641.4" cy="81.2" r="1.8"/><circle cx="501.5" cy="123.1" r="1.8"/><circle cx="656" cy="123.1" r="1.8"/><circle cx="504.3" cy="94.4" r="1.8"/><circle cx="658.8" cy="94.4" r="1.8"/><circle cx="506.3" cy="147.2" r="1.8"/><circle cx="660.8" cy="147.2" r="1.8"/><circle cx="510.4" cy="105.5" r="1.8"/><circle cx="664.9" cy="105.5" r="1.8"/><circle cx="512.3" cy="101" r="1.8"/><circle cx="666.8" cy="101" r="1.8"/><circle cx="518.2" cy="127.4" r="1.8"/><circle cx="672.7" cy="127.4" r="1.8"/><circle cx="520.1" cy="140.6" r="1.8"/><circle cx="674.6" cy="140.6" r="1.8"/><circle cx="521" cy="136" r="1.8"/><circle cx="675.5" cy="136" r="1.8"/><circle cx="522.2" cy="116.4" r="1.8"/><circle cx="676.7" cy="116.4" r="1.8"/><circle cx="523" cy="164.7" r="1.8"/><circle cx="677.5" cy="164.7" r="1.8"/><circle cx="524.2" cy="118.6" r="1.8"/><circle cx="678.7" cy="118.6" r="1.8"/><circle cx="526.3" cy="120.9" r="1.8"/><circle cx="680.8" cy="120.9" r="1.8"/><circle cx="526.3" cy="138.3" r="1.8"/><circle cx="680.8" cy="138.3" r="1.8"/><circle cx="528.3" cy="127.4" r="1.8"/><circle cx="682.8" cy="127.4" r="1.8"/><circle cx="538.4" cy="96.6" r="1.8"/><circle cx="692.9" cy="96.6" r="1.8"/><circle cx="540.4" cy="90" r="1.8"/><circle cx="694.9" cy="90" r="1.8"/><circle cx="542.3" cy="94.4" r="1.8"/><circle cx="696.8" cy="94.4" r="1.8"/><circle cx="546" cy="107.5" r="1.8"/><circle cx="700.5" cy="107.5" r="1.8"/><circle cx="548" cy="144.8" r="1.8"/><circle cx="702.5" cy="144.8" r="1.8"/><circle cx="550" cy="109.8" r="1.8"/><circle cx="704.5" cy="109.8" r="1.8"/><circle cx="552.3" cy="114.2" r="1.8"/><circle cx="706.8" cy="114.2" r="1.8"/></g>
<line x1="558.5" y1="11.5" x2="558.5" y2="230.5" stroke="#747474" stroke-width="1"/>
</g>
<g filter="url(#gs)"><g fill="#555555" font-size="8.4">
<text x="404.1" y="242.2" text-anchor="middle" textLength="11.4" lengthAdjust="spacing">0.0</text>
<text x="481.35" y="242.2" text-anchor="middle" textLength="11.4" lengthAdjust="spacing">0.5</text>
<text x="558.6" y="242.2" text-anchor="middle" textLength="11.4" lengthAdjust="spacing">1.0</text>
<text x="635.85" y="242.2" text-anchor="middle" textLength="11.4" lengthAdjust="spacing">1.5</text>
<text x="713.1" y="242.2" text-anchor="middle" textLength="11.4" lengthAdjust="spacing">2.0</text>
<text x="402.0" y="36.8" text-anchor="end" textLength="17" lengthAdjust="spacing">0.66</text>
<text x="402.0" y="80.6" text-anchor="end" textLength="17" lengthAdjust="spacing">0.68</text>
<text x="402.0" y="124.4" text-anchor="end" textLength="17" lengthAdjust="spacing">0.70</text>
<text x="402.0" y="168.2" text-anchor="end" textLength="17" lengthAdjust="spacing">0.72</text>
<text x="402.0" y="212" text-anchor="end" textLength="17" lengthAdjust="spacing">0.74</text>
<text x="558.2" y="251.8" font-size="8.2" word-spacing="2.2" text-anchor="middle" textLength="97.5" lengthAdjust="spacing">Phase (P = 0.693264 d)</text>
<text transform="translate(378.5 120.6) rotate(-90)" font-size="8.2" text-anchor="middle" textLength="23" lengthAdjust="spacing">B − V</text>
</g>
<text x="558.4" y="7.0" font-size="10.2" word-spacing="2.8" fill="#555555" text-anchor="middle">2012 October</text>
<text x="542.3" y="283.9" font-family="'Liberation Serif', serif" font-size="18.6" fill="#000" text-anchor="middle">(c)</text>
</g></g>
<g id="p4">
<path d="M419.95 545.5v-2.1M419.95 326.5v2.1M435.4 545.5v-2.1M435.4 326.5v2.1M450.85 545.5v-2.1M450.85 326.5v2.1M466.3 545.5v-2.1M466.3 326.5v2.1M481.75 545.5v-4.2M481.75 326.5v4.2M497.2 545.5v-2.1M497.2 326.5v2.1M512.65 545.5v-2.1M512.65 326.5v2.1M528.1 545.5v-2.1M528.1 326.5v2.1M543.55 545.5v-2.1M543.55 326.5v2.1M559 545.5v-4.2M559 326.5v4.2M574.45 545.5v-2.1M574.45 326.5v2.1M589.9 545.5v-2.1M589.9 326.5v2.1M605.35 545.5v-2.1M605.35 326.5v2.1M620.8 545.5v-2.1M620.8 326.5v2.1M636.25 545.5v-4.2M636.25 326.5v4.2M651.7 545.5v-2.1M651.7 326.5v2.1M667.15 545.5v-2.1M667.15 326.5v2.1M682.6 545.5v-2.1M682.6 326.5v2.1M698.05 545.5v-2.1M698.05 326.5v2.1M404.5 337.45h3.1M713.5 337.45h-3.1M404.5 348.4h3.1M713.5 348.4h-3.1M404.5 359.35h3.1M713.5 359.35h-3.1M404.5 370.3h3.1M713.5 370.3h-3.1M404.5 381.25h6.2M713.5 381.25h-6.2M404.5 392.2h3.1M713.5 392.2h-3.1M404.5 403.15h3.1M713.5 403.15h-3.1M404.5 414.1h3.1M713.5 414.1h-3.1M404.5 425.05h3.1M713.5 425.05h-3.1M404.5 436h6.2M713.5 436h-6.2M404.5 446.95h3.1M713.5 446.95h-3.1M404.5 457.9h3.1M713.5 457.9h-3.1M404.5 468.85h3.1M713.5 468.85h-3.1M404.5 479.8h3.1M713.5 479.8h-3.1M404.5 490.75h6.2M713.5 490.75h-6.2M404.5 501.7h3.1M713.5 501.7h-3.1M404.5 512.65h3.1M713.5 512.65h-3.1M404.5 523.6h3.1M713.5 523.6h-3.1M404.5 534.55h3.1M713.5 534.55h-3.1" stroke="#cecece" stroke-width="1" fill="none"/>
<rect x="404.5" y="326.5" width="309" height="219" fill="none" stroke="#c4c4c4" stroke-width="1"/>
<clipPath id="cd"><rect x="404.25" y="326.0" width="309.5" height="220"/></clipPath>
<g clip-path="url(#cd)">
<path d="M434.2 407.7V417.7M432.7 407.7h3M432.7 417.7h3M588.7 407.7V417.7M587.2 407.7h3M587.2 417.7h3M436.9 382.6V392.6M435.4 382.6h3M435.4 392.6h3M591.4 382.6V392.6M589.9 382.6h3M589.9 392.6h3M438.8 392.9V402.1M437.3 392.9h3M437.3 402.1h3M593.3 392.9V402.1M591.8 392.9h3M591.8 402.1h3M447.8 388.7V397.9M446.3 388.7h3M446.3 397.9h3M602.3 388.7V397.9M600.8 388.7h3M600.8 397.9h3M453.8 383V392.2M452.3 383h3M452.3 392.2h3M608.3 383V392.2M606.8 383h3M606.8 392.2h3M454.7 371.2V380.4M453.2 371.2h3M453.2 380.4h3M609.2 371.2V380.4M607.7 371.2h3M607.7 380.4h3M455.9 372.4V381.6M454.4 372.4h3M454.4 381.6h3M610.4 372.4V381.6M608.9 372.4h3M608.9 381.6h3M457 373.6V382.8M455.5 373.6h3M455.5 382.8h3M611.5 373.6V382.8M610 373.6h3M610 382.8h3M458 374.8V384M456.5 374.8h3M456.5 384h3M612.5 374.8V384M611 374.8h3M611 384h3M458.8 368.8V378.2M457.3 368.8h3M457.3 378.2h3M613.3 368.8V378.2M611.8 368.8h3M611.8 378.2h3M459.8 352.3V361.5M458.3 352.3h3M458.3 361.5h3M614.3 352.3V361.5M612.8 352.3h3M612.8 361.5h3M462 368.8V378.2M460.5 368.8h3M460.5 378.2h3M616.5 368.8V378.2M615 368.8h3M615 378.2h3M485.4 356.8V366.4M483.9 356.8h3M483.9 366.4h3M639.9 356.8V366.4M638.4 356.8h3M638.4 366.4h3M487.5 355.6V365M486 355.6h3M486 365h3M642 355.6V365M640.5 355.6h3M640.5 365h3M501.9 385.4V396.4M500.4 385.4h3M500.4 396.4h3M656.4 385.4V396.4M654.9 385.4h3M654.9 396.4h3M504.8 386.8V397.6M503.3 386.8h3M503.3 397.6h3M659.3 386.8V397.6M657.8 386.8h3M657.8 397.6h3M506.7 381.6V393.6M505.2 381.6h3M505.2 393.6h3M661.2 381.6V393.6M659.7 381.6h3M659.7 393.6h3M510.9 373.6V386M509.4 373.6h3M509.4 386h3M665.4 373.6V386M663.9 373.6h3M663.9 386h3M512.8 380.4V392.6M511.3 380.4h3M511.3 392.6h3M667.3 380.4V392.6M665.8 380.4h3M665.8 392.6h3M518.6 388.1V400.3M517.1 388.1h3M517.1 400.3h3M673.1 388.1V400.3M671.6 388.1h3M671.6 400.3h3M520.7 381.3V393.9M519.2 381.3h3M519.2 393.9h3M675.2 381.3V393.9M673.7 381.3h3M673.7 393.9h3M521.3 370.5V384.9M519.8 370.5h3M519.8 384.9h3M675.8 370.5V384.9M674.3 370.5h3M674.3 384.9h3M522.6 384.4V397.4M521.1 384.4h3M521.1 397.4h3M677.1 384.4V397.4M675.6 384.4h3M675.6 397.4h3M523.6 385.7V398.7M522.1 385.7h3M522.1 398.7h3M678.1 385.7V398.7M676.6 385.7h3M676.6 398.7h3M524.5 395.5V408.3M523 395.5h3M523 408.3h3M679 395.5V408.3M677.5 395.5h3M677.5 408.3h3M526.7 394.3V409.5M525.2 394.3h3M525.2 409.5h3M681.2 394.3V409.5M679.7 394.3h3M679.7 409.5h3M526.6 413.6V425.6M525.1 413.6h3M525.1 425.6h3M681.1 413.6V425.6M679.6 413.6h3M679.6 425.6h3M529.1 394.3V409.5M527.6 394.3h3M527.6 409.5h3M683.6 394.3V409.5M682.1 394.3h3M682.1 409.5h3M538.5 393.9V407.9M537 393.9h3M537 407.9h3M693 393.9V407.9M691.5 393.9h3M691.5 407.9h3M540.6 392.7V406.7M539.1 392.7h3M539.1 406.7h3M695.1 392.7V406.7M693.6 392.7h3M693.6 406.7h3M542.8 366.9V382.3M541.3 366.9h3M541.3 382.3h3M697.3 366.9V382.3M695.8 366.9h3M695.8 382.3h3M546.6 366V383.2M545.1 366h3M545.1 383.2h3M701.1 366V383.2M699.6 366h3M699.6 383.2h3M548.4 399.7V417.3M546.9 399.7h3M546.9 417.3h3M702.9 399.7V417.3M701.4 399.7h3M701.4 417.3h3M550.5 394.5V411.7M549 394.5h3M549 411.7h3M705 394.5V411.7M703.5 394.5h3M703.5 411.7h3M552.8 403.3V420.5M551.3 403.3h3M551.3 420.5h3M707.3 403.3V420.5M705.8 403.3h3M705.8 420.5h3" stroke="#b6b6b6" stroke-width="0.7" fill="none"/>
<g fill="#1ce20a"><circle cx="434.2" cy="412.7" r="1.8"/><circle cx="588.7" cy="412.7" r="1.8"/><circle cx="436.9" cy="387.6" r="1.8"/><circle cx="591.4" cy="387.6" r="1.8"/><circle cx="438.8" cy="397.5" r="1.8"/><circle cx="593.3" cy="397.5" r="1.8"/><circle cx="447.8" cy="393.3" r="1.8"/><circle cx="602.3" cy="393.3" r="1.8"/><circle cx="453.8" cy="387.6" r="1.8"/><circle cx="608.3" cy="387.6" r="1.8"/><circle cx="454.7" cy="375.8" r="1.8"/><circle cx="609.2" cy="375.8" r="1.8"/><circle cx="455.9" cy="377" r="1.8"/><circle cx="610.4" cy="377" r="1.8"/><circle cx="457" cy="378.2" r="1.8"/><circle cx="611.5" cy="378.2" r="1.8"/><circle cx="458" cy="379.4" r="1.8"/><circle cx="612.5" cy="379.4" r="1.8"/><circle cx="458.8" cy="373.5" r="1.8"/><circle cx="613.3" cy="373.5" r="1.8"/><circle cx="459.8" cy="356.9" r="1.8"/><circle cx="614.3" cy="356.9" r="1.8"/><circle cx="462" cy="373.5" r="1.8"/><circle cx="616.5" cy="373.5" r="1.8"/><circle cx="485.4" cy="361.6" r="1.8"/><circle cx="639.9" cy="361.6" r="1.8"/><circle cx="487.5" cy="360.3" r="1.8"/><circle cx="642" cy="360.3" r="1.8"/><circle cx="501.9" cy="390.9" r="1.8"/><circle cx="656.4" cy="390.9" r="1.8"/><circle cx="504.8" cy="392.2" r="1.8"/><circle cx="659.3" cy="392.2" r="1.8"/><circle cx="506.7" cy="387.6" r="1.8"/><circle cx="661.2" cy="387.6" r="1.8"/><circle cx="510.9" cy="379.8" r="1.8"/><circle cx="665.4" cy="379.8" r="1.8"/><circle cx="512.8" cy="386.5" r="1.8"/><circle cx="667.3" cy="386.5" r="1.8"/><circle cx="518.6" cy="394.2" r="1.8"/><circle cx="673.1" cy="394.2" r="1.8"/><circle cx="520.7" cy="387.6" r="1.8"/><circle cx="675.2" cy="387.6" r="1.8"/><circle cx="521.3" cy="377.7" r="1.8"/><circle cx="675.8" cy="377.7" r="1.8"/><circle cx="522.6" cy="390.9" r="1.8"/><circle cx="677.1" cy="390.9" r="1.8"/><circle cx="523.6" cy="392.2" r="1.8"/><circle cx="678.1" cy="392.2" r="1.8"/><circle cx="524.5" cy="401.9" r="1.8"/><circle cx="679" cy="401.9" r="1.8"/><circle cx="526.7" cy="401.9" r="1.8"/><circle cx="681.2" cy="401.9" r="1.8"/><circle cx="526.6" cy="419.6" r="1.8"/><circle cx="681.1" cy="419.6" r="1.8"/><circle cx="529.1" cy="401.9" r="1.8"/><circle cx="683.6" cy="401.9" r="1.8"/><circle cx="538.5" cy="400.9" r="1.8"/><circle cx="693" cy="400.9" r="1.8"/><circle cx="540.6" cy="399.7" r="1.8"/><circle cx="695.1" cy="399.7" r="1.8"/><circle cx="542.8" cy="374.6" r="1.8"/><circle cx="697.3" cy="374.6" r="1.8"/><circle cx="546.6" cy="374.6" r="1.8"/><circle cx="701.1" cy="374.6" r="1.8"/><circle cx="548.4" cy="408.5" r="1.8"/><circle cx="702.9" cy="408.5" r="1.8"/><circle cx="550.5" cy="403.1" r="1.8"/><circle cx="705" cy="403.1" r="1.8"/><circle cx="552.8" cy="411.9" r="1.8"/><circle cx="707.3" cy="411.9" r="1.8"/></g>
<line x1="558.5" y1="326.5" x2="558.5" y2="545.5" stroke="#747474" stroke-width="1"/>
</g>
<g filter="url(#gs)"><g fill="#555555" font-size="8.4">
<text x="404.1" y="557.2" text-anchor="middle" textLength="11.4" lengthAdjust="spacing">0.0</text>
<text x="481.35" y="557.2" text-anchor="middle" textLength="11.4" lengthAdjust="spacing">0.5</text>
<text x="558.6" y="557.2" text-anchor="middle" textLength="11.4" lengthAdjust="spacing">1.0</text>
<text x="635.85" y="557.2" text-anchor="middle" textLength="11.4" lengthAdjust="spacing">1.5</text>
<text x="713.1" y="557.2" text-anchor="middle" textLength="11.4" lengthAdjust="spacing">2.0</text>
<text x="402.0" y="331.8" text-anchor="end" textLength="17" lengthAdjust="spacing">0.40</text>
<text x="402.0" y="384.55" text-anchor="end" textLength="17" lengthAdjust="spacing">0.45</text>
<text x="402.0" y="439.3" text-anchor="end" textLength="17" lengthAdjust="spacing">0.50</text>
<text x="402.0" y="494.05" text-anchor="end" textLength="17" lengthAdjust="spacing">0.55</text>
<text x="402.0" y="546" text-anchor="end" textLength="17" lengthAdjust="spacing">0.60</text>
<text x="558.2" y="566.8" font-size="8.2" word-spacing="2.2" text-anchor="middle" textLength="97.5" lengthAdjust="spacing">Phase (P = 0.693264 d)</text>
<text transform="translate(378.5 435.6) rotate(-90)" font-size="8.2" text-anchor="middle" textLength="23" lengthAdjust="spacing">V − R</text>
</g>
<text x="558.4" y="322.0" font-size="10.2" word-spacing="2.8" fill="#555555" text-anchor="middle">2012 October</text>
<text x="542.5" y="599.8" font-family="'Liberation Serif', serif" font-size="18.6" fill="#000" text-anchor="middle">(d)</text>
</g></g>
</svg>
</body></html>
